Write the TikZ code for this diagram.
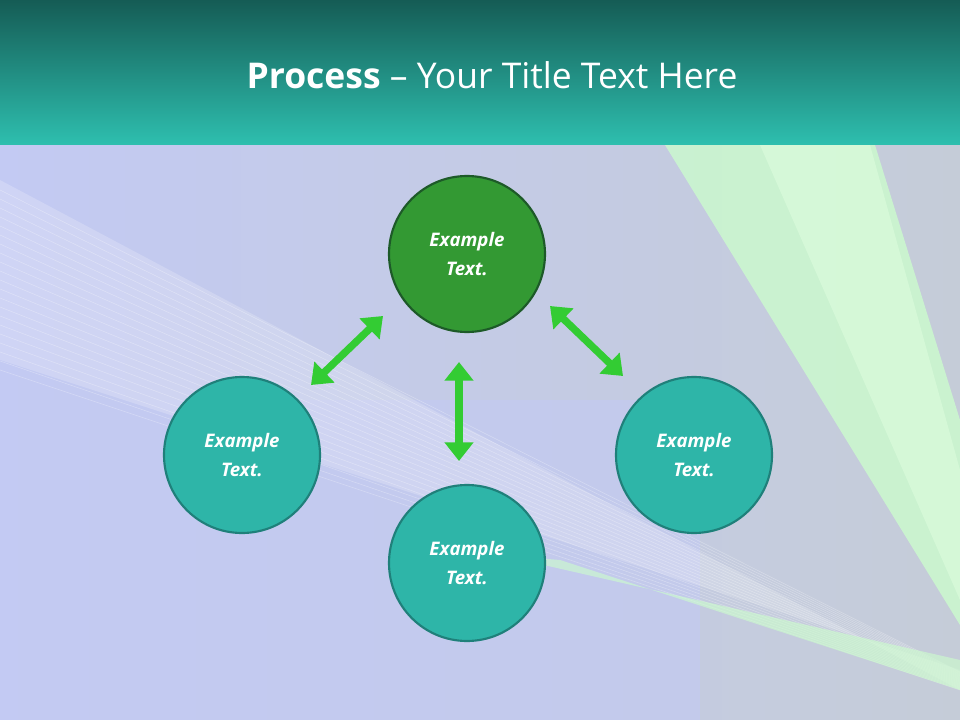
\documentclass[tikz,border=0pt]{standalone}
\usepackage{fontspec}
\setmainfont{Open Sans}
\usetikzlibrary{arrows.meta}
\definecolor{bg}{HTML}{C3CAF3}
\definecolor{tealtop}{HTML}{155C55}
\definecolor{tealbot}{HTML}{2EBFAF}
\definecolor{dkgreen}{HTML}{339933}
\definecolor{dkgreenb}{HTML}{1D5A28}
\definecolor{tealc}{HTML}{2EB5A8}
\definecolor{tealb}{HTML}{1F807A}
\definecolor{arr}{HTML}{33CC33}
\definecolor{ray}{HTML}{CCFFCC}
\definecolor{grayish}{HTML}{C5CCD8}
\tikzset{
  circ/.style={circle,minimum size=117pt,line width=1.6pt,text=white,font=\bfseries\itshape\fontsize{14}{22}\selectfont,align=center,inner sep=0pt},
  dbl/.style={arr,line width=5.5pt,{Triangle[length=14pt,width=21pt]}-{Triangle[length=14pt,width=21pt]}}
}
\begin{document}
\begin{tikzpicture}[x=0.75pt,y=-0.75pt]
\useasboundingbox (0,0) rectangle (960,720);
\shade[left color=bg,right color=grayish] (0,145) rectangle (960,720);
\fill[bg,opacity=0.6] (0,400) rectangle (700,720);
% light fan from left to bottom-right
\fill[white,opacity=0.2] (0,180) -- (960,690) -- (960,670) -- (0,360) -- cycle;
\foreach \i in {0,...,20}{\draw[white,opacity=0.3] (0,{190+\i*9}) -- (960,{672+\i*0.9});}
\fill[ray,opacity=0.6] (960,690) -- (560,560) -- (500,555) -- (960,660) -- cycle;
% green wedge top right
\fill[ray,opacity=0.75] (665,145) -- (875,145) -- (960,420) -- (960,625) -- cycle;
\fill[ray!60!white,opacity=0.5] (760,145) -- (870,145) -- (960,470) -- (960,600) -- cycle;
\shade[top color=tealtop,bottom color=tealbot] (0,0) rectangle (960,145);
\node[text=white,font=\fontsize{26.6}{32}\selectfont] (title) at (492,75) {\textbf{Process} – Your Title Text Here};
\node[circ,fill=dkgreen,draw=dkgreenb] (top) at (467,254) {Example\\Text.};
\node[circ,fill=tealc,draw=tealb] (left) at (242,455) {Example\\Text.};
\node[circ,fill=tealc,draw=tealb] (right) at (694,455) {Example\\Text.};
\node[circ,fill=tealc,draw=tealb] (bot) at (467,563) {Example\\Text.};
\coordinate (a1) at (311,385); \coordinate (a2) at (383,316);
\coordinate (b1) at (550,306); \coordinate (b2) at (623,376);
\coordinate (c1) at (459,362); \coordinate (c2) at (459,461);
\draw[dbl] (a1) -- (a2);
\draw[dbl] (b1) -- (b2);
\draw[dbl] (c1) -- (c2);
\end{tikzpicture}
\end{document}
